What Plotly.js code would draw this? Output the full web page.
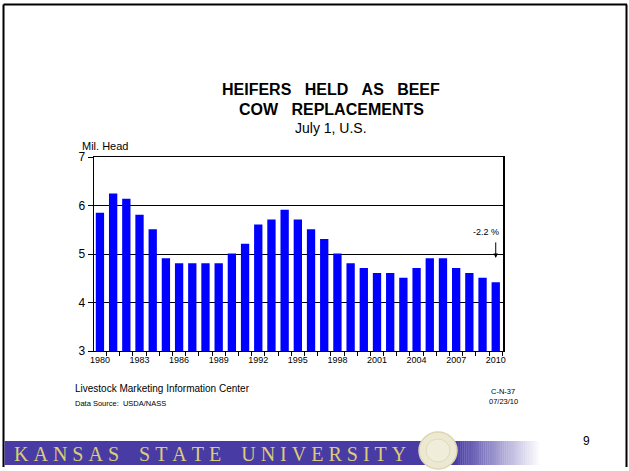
<!DOCTYPE html>
<html>
<head>
<meta charset="utf-8">
<script src="https://cdn.plot.ly/plotly-3.0.1.min.js"></script>
<style>html,body{margin:0;padding:0;background:#fff;}</style>
</head>
<body>
<div id="chart" style="width:629px;height:471px;"></div>
<script>
// ---- data ----
const years = [1980,1981,1982,1983,1984,1985,1986,1987,1988,1989,1990,1991,1992,1993,1994,1995,1996,1997,1998,1999,2000,2001,2002,2003,2004,2005,2006,2007,2008,2009,2010];
const heifers = [5.85,6.25,6.14,5.81,5.51,4.91,4.81,4.81,4.81,4.81,5.01,5.21,5.61,5.71,5.91,5.71,5.51,5.31,5.01,4.81,4.71,4.61,4.61,4.51,4.71,4.91,4.91,4.71,4.61,4.51,4.42];
const xTickLabels = ['1980','1983','1986','1989','1992','1995','1998','2001','2004','2007','2010'];
const xTickVals = xTickLabels.map(Number);
const yTickVals = [3,4,5,6,7];
const changeLabel = '-2.2 %';

// ---- layout helpers (pixel -> paper) ----
const L = 94, R = 503, T = 157, B = 351;
const px = x => (x - L) / (R - L);
const py = y => (B - y) / (B - T);
const F = 'Liberation Sans, Arial, sans-serif';
const spaced = (s, gap, wordGap) => s.split(' ').map(w => w.split('').join(gap)).join(wordGap);

const shapes = [];
// slide border
shapes.push({type:'line', xref:'paper', yref:'paper', x0:px(3.5), x1:px(627), y0:py(4.5), y1:py(4.5), line:{color:'#000', width:2}});
shapes.push({type:'line', xref:'paper', yref:'paper', x0:px(3.5), x1:px(3.5), y0:py(4.5), y1:py(467), line:{color:'#000', width:2}});
shapes.push({type:'line', xref:'paper', yref:'paper', x0:px(626.5), x1:px(626.5), y0:py(4.5), y1:py(467), line:{color:'#000', width:2}});
// banner
const purple = [72, 60, 164];
shapes.push({type:'rect', xref:'paper', yref:'paper', x0:px(4.5), x1:px(456), y0:py(441), y1:py(465), line:{width:0}, fillcolor:`rgb(${purple.join(',')})`});
const steps = 40, gx0 = 456, gx1 = 540;
for (let i = 0; i < steps; i++) {
  const t = (i + 0.5) / steps;
  const c = purple.map(v => Math.round(v + (255 - v) * t));
  shapes.push({type:'rect', xref:'paper', yref:'paper', x0:px(gx0 + (gx1-gx0)*i/steps), x1:px(gx0 + (gx1-gx0)*(i+1)/steps + 0.3), y0:py(441), y1:py(465), line:{width:0}, fillcolor:`rgb(${c.join(',')})`});
}
// seal
shapes.push({type:'circle', xref:'paper', yref:'paper', x0:px(419), x1:px(457), y0:py(432), y1:py(469), line:{color:'#dcd6b2', width:1.5}, fillcolor:'#ece8d2'});
shapes.push({type:'circle', xref:'paper', yref:'paper', x0:px(426), x1:px(450), y0:py(439), y1:py(462), line:{color:'#e0dabc', width:1}, fillcolor:'#f0edda'});

const annotations = [
  {text:'<b>' + spaced('HEIFERS HELD AS BEEF', '', '\u00a0\u00a0\u00a0') + '</b>', x:px(331), y:py(90), xref:'paper', yref:'paper', showarrow:false, font:{family:F, size:16, color:'#000'}, xanchor:'center', yanchor:'middle'},
  {text:'<b>' + spaced('COW REPLACEMENTS', '', '\u00a0\u00a0\u00a0') + '</b>', x:px(331), y:py(109), xref:'paper', yref:'paper', showarrow:false, font:{family:F, size:16, color:'#000'}, xanchor:'center', yanchor:'middle'},
  {text:'July 1, U.S.', x:px(331), y:py(128), xref:'paper', yref:'paper', showarrow:false, font:{family:F, size:14, color:'#000'}, xanchor:'center', yanchor:'middle'},
  {text:'Mil. Head', x:px(80), y:py(146), xref:'paper', yref:'paper', showarrow:false, font:{family:F, size:11, color:'#000'}, xanchor:'left', yanchor:'middle'},
  {text:changeLabel, x:px(486), y:py(232), xref:'paper', yref:'paper', showarrow:false, font:{family:F, size:9, color:'#000'}, xanchor:'center', yanchor:'middle'},
  {text:'', x:years[years.length-1], y:4.92, xref:'x', yref:'y', showarrow:true, ax:0, ay:-17, arrowhead:2, arrowsize:0.9, arrowwidth:1, arrowcolor:'#000'},
  {text:'Livestock Marketing Information Center', x:px(73), y:py(388), xref:'paper', yref:'paper', showarrow:false, font:{family:F, size:10, color:'#000'}, xanchor:'left', yanchor:'middle'},
  {text:'Data Source:\u00a0\u00a0USDA/NASS', x:px(73), y:py(403), xref:'paper', yref:'paper', showarrow:false, font:{family:F, size:7.5, color:'#000'}, xanchor:'left', yanchor:'middle'},
  {text:'C-N-37', x:px(503), y:py(391), xref:'paper', yref:'paper', showarrow:false, font:{family:F, size:7.5, color:'#000'}, xanchor:'center', yanchor:'middle'},
  {text:'07/23/10', x:px(503), y:py(401), xref:'paper', yref:'paper', showarrow:false, font:{family:F, size:7.5, color:'#000'}, xanchor:'center', yanchor:'middle'},
  {text:'9', x:px(586), y:py(441), xref:'paper', yref:'paper', showarrow:false, font:{family:F, size:12, color:'#000'}, xanchor:'center', yanchor:'middle'},
  {text:spaced('KANSAS STATE UNIVERSITY', '\u00a0', '\u00a0\u00a0\u00a0\u00a0'), x:px(12), y:py(453.5), xref:'paper', yref:'paper', showarrow:false, font:{family:'Liberation Serif, Times New Roman, serif', size:20, color:'#dccb7a'}, xanchor:'left', yanchor:'middle'}
];

const trace = {
  type:'bar', x:years, y:heifers, marker:{color:'#0000ff', line:{width:0}}, hoverinfo:'x+y'
};

const layout = {
  width:629, height:471,
  margin:{l:L, r:629-R, t:T, b:471-B, pad:0},
  paper_bgcolor:'#fff', plot_bgcolor:'#fff',
  showlegend:false, bargap:0.37,
  font:{family:F, color:'#000'},
  xaxis:{
    range:[1979.55, 2010.55], tickmode:'array', tickvals:xTickVals, ticktext:xTickLabels,
    ticks:'', showgrid:false, zeroline:false, showline:true, linecolor:'#000', linewidth:1, mirror:true,
    tickfont:{family:F, size:9, color:'#000'},
    minor:{tickmode:'array', tickvals:years.map(y => y + 0.5), ticks:'outside', ticklen:4, tickcolor:'#000', tickwidth:1, showgrid:false}
  },
  yaxis:{
    range:[3,7], tickmode:'array', tickvals:yTickVals, ticks:'outside', ticklen:5, tickcolor:'#000',
    showgrid:true, gridcolor:'#000', gridwidth:1, zeroline:false, showline:true, linecolor:'#000', linewidth:1.5, mirror:true,
    tickfont:{family:F, size:12, color:'#000'}
  },
  shapes:shapes, annotations:annotations
};

Plotly.newPlot('chart', [trace], layout, {displayModeBar:false, staticPlot:true});
</script>
</body>
</html>
